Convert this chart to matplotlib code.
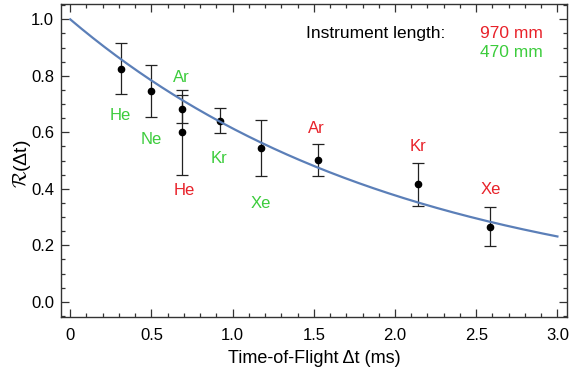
import numpy as np
import matplotlib
matplotlib.use("Agg")
import matplotlib.pyplot as plt
from matplotlib.ticker import MultipleLocator

# Data
labels = ["He", "Ne", "Ar", "Kr", "Xe", "He", "Ar", "Kr", "Xe"]
instrument = ["470", "470", "470", "470", "470", "970", "970", "970", "970"]
tof = [0.31, 0.50, 0.686, 0.924, 1.175, 0.686, 1.524, 2.144, 2.582]
ratio = [0.826, 0.747, 0.682, 0.641, 0.544, 0.600, 0.502, 0.416, 0.266]
err = [0.09, 0.093, 0.05, 0.044, 0.10, 0.15, 0.058, 0.077, 0.07]
label_x = [0.31, 0.50, 0.686, 0.916, 1.175, 0.70, 1.514, 2.14, 2.59]
label_y = [0.661, 0.573, 0.793, 0.508, 0.348, 0.393, 0.614, 0.549, 0.396]
xtick_vals = [0, 0.5, 1.0, 1.5, 2.0, 2.5, 3.0]
xtick_labels = ["0", "0.5", "1.0", "1.5", "2.0", "2.5", "3.0"]
decay_rate = 0.488  # fit: R = exp(-k * t)

green = "#3ccc3c"
red = "#e8222a"
blue = "#5b7fb8"
colors = {"470": green, "970": red}

plt.rcParams["font.family"] = ["Liberation Sans", "DejaVu Sans"]
plt.rcParams["mathtext.fontset"] = "cm"

fig = plt.figure(figsize=(5.7, 3.73), dpi=100)
ax = fig.add_axes([0.107, 0.150, 0.888, 0.839])

t = np.linspace(0, 3.0, 300)
ax.errorbar(tof, ratio, yerr=err, fmt="o", color="black", ecolor="#222222",
            elinewidth=0.9, capsize=4.5, capthick=0.9, markersize=4.5, zorder=3)
ax.plot(t, np.exp(-decay_rate * t), color=blue, lw=1.6, zorder=4)

for lab, ins, x, y in zip(labels, instrument, label_x, label_y):
    ax.text(x, y, lab, color=colors[ins], fontsize=12, ha="center", va="center")

ax.text(0.484, 0.905, "Instrument length:", transform=ax.transAxes, fontsize=12.5,
        ha="left", va="center")
ax.text(0.952, 0.905, "970 mm", transform=ax.transAxes, fontsize=12.5, color=red,
        ha="right", va="center")
ax.text(0.952, 0.844, "470 mm", transform=ax.transAxes, fontsize=12.5, color=green,
        ha="right", va="center")

ax.set_xlim(-0.057, 3.06)
ax.set_ylim(-0.054, 1.054)
ax.xaxis.set_minor_locator(MultipleLocator(0.1))
ax.yaxis.set_major_locator(MultipleLocator(0.2))
ax.yaxis.set_minor_locator(MultipleLocator(0.05))
ax.set_xticks(xtick_vals)
ax.set_xticklabels(xtick_labels)
ax.tick_params(which="both", direction="in", top=True, right=True,
               labelsize=12, color="#333333", width=0.9)
ax.tick_params(which="major", length=5.5)
ax.tick_params(axis="x", which="major", pad=8)
ax.tick_params(axis="y", which="major", pad=5)
ax.tick_params(which="minor", length=3)
for s in ax.spines.values():
    s.set_color("#333333")
    s.set_linewidth(1.0)

ax.set_xlabel("Time-of-Flight Δt (ms)", fontsize=13, labelpad=5)
ax.set_ylabel(r"$\mathcal{R}$(Δt)", fontsize=14)
ax.yaxis.set_label_coords(-0.056, 0.49)

fig.savefig("out.png", dpi=100)
